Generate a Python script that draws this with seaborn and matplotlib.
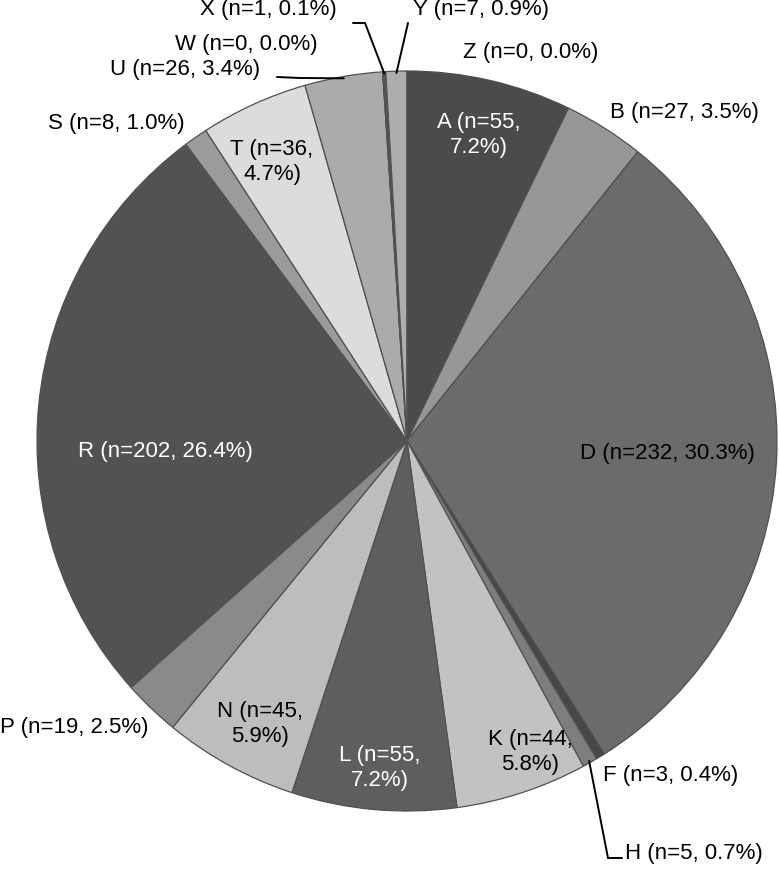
import numpy as np
import matplotlib
matplotlib.use("Agg")
import matplotlib.pyplot as plt
import seaborn as sns

categories = ["A", "B", "D", "F", "H", "K", "L", "N", "P", "R", "S", "T", "U", "W", "X", "Y", "Z"]
counts = [55, 27, 232, 3, 5, 44, 55, 45, 19, 202, 8, 36, 26, 0, 1, 7, 0]
greys = ["#4b4b4b", "#979797", "#6b6b6b", "#474747", "#7d7d7d", "#c2c2c2", "#5e5e5e",
         "#bdbdbd", "#8a8a8a", "#525252", "#9b9b9b", "#dcdcdc", "#ababab", "#888888",
         "#555555", "#adadad", "#888888"]
two_line = {"A", "K", "L", "N", "T"}
white_text = {"A", "L", "R"}

sns.set_theme(style="white")
plt.rcParams["font.family"] = ["Liberation Sans", "DejaVu Sans"]

# pixel geometry of the pie in the 779x869 image
CX, CY, RPX = 407, 441, 370
W, H = 779, 869


def px(x, y):
    return (x - CX) / RPX, (CY - y) / RPX


# label anchors (pixel x, pixel y, horizontal alignment)
label_pos = {
    "A": (479, 135, "center"), "B": (610, 113, "left"), "D": (667, 454, "center"),
    "F": (603, 776, "left"), "H": (625, 853, "left"), "K": (530, 752, "center"),
    "L": (380, 768, "center"), "N": (260, 724, "center"), "P": (0, 728, "left"),
    "R": (165, 452, "center"), "S": (48, 124, "left"), "T": (272, 162, "center"),
    "U": (260, 70, "right"), "W": (318, 45, "right"), "X": (337, 10, "right"),
    "Y": (413, 10, "left"), "Z": (463, 53, "left"),
}
# leader line bends (pixels), the wedge end is added from the pie itself
leaders = {
    "X": [(353, 23), (365, 23)],
    "Y": [(408, 23)],
    "U": [(277, 77), (300, 78)],
    "H": [(622, 858), (608, 858)],
}

fig = plt.figure(figsize=(W / 100, H / 100), dpi=100)
ax = fig.add_axes([0, 0, 1, 1])
wedges, _ = ax.pie(counts, colors=greys, startangle=90, counterclock=False,
                   radius=1, wedgeprops=dict(edgecolor="#505050", linewidth=0.9))
ax.set_xlim(-CX / RPX, (W - CX) / RPX)
ax.set_ylim((CY - H) / RPX, CY / RPX)
ax.set_aspect("auto")
ax.axis("off")

total = sum(counts)
for cat, n, w in zip(categories, counts, wedges):
    pct = n / total * 100
    sep = "\n" if cat in two_line else " "
    txt = f"{cat} (n={n},{sep}{pct:.1f}%)"
    x, y, ha = label_pos[cat]
    tx, ty = px(x, y)
    ax.text(tx, ty, txt, ha=ha, va="center", multialignment="center",
            fontsize=16, linespacing=1.3,
            color="white" if cat in white_text else "black")
    if cat in leaders:
        mid = np.deg2rad((w.theta1 + w.theta2) / 2)
        pts = [px(a, b) for a, b in leaders[cat]] + [(0.995 * np.cos(mid), 0.995 * np.sin(mid))]
        xs, ys = zip(*pts)
        ax.plot(xs, ys, color="black", lw=1.4, solid_joinstyle="miter")

fig.savefig("out.png", dpi=100)
